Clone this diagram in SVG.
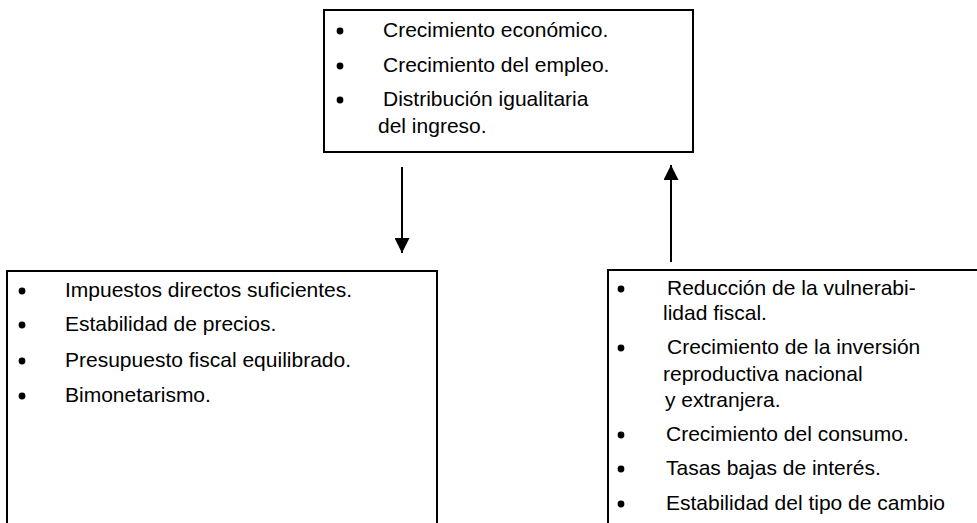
<svg xmlns="http://www.w3.org/2000/svg" width="977" height="523" viewBox="0 0 977 523">
<defs>
<style>
.box{fill:#fff;stroke:#000;stroke-width:2}
.t{font-family:"Liberation Sans",Arial,sans-serif;font-size:21px;fill:#000}
.b{fill:#000}
.ln{stroke:#000;stroke-width:2;fill:none}
</style>
<marker id="ah" viewBox="0 0 10 10" refX="10" refY="5" markerWidth="15" markerHeight="15" markerUnits="userSpaceOnUse" orient="auto">
<path d="M0,0 L10,5 L0,10 Z" fill="#000"/>
</marker>
</defs>
<rect width="977" height="523" fill="#fff"/>
<g id="top">
<rect class="box" x="324" y="10" width="369" height="142"/>
<circle class="b" cx="340" cy="31" r="3.4"/>
<circle class="b" cx="340" cy="66" r="3.4"/>
<circle class="b" cx="340" cy="100" r="3.4"/>
<text class="t" x="383" y="37">Crecimiento económico.</text>
<text class="t" x="383" y="72">Crecimiento del empleo.</text>
<text class="t" x="383" y="106">Distribución igualitaria</text>
<text class="t" x="378" y="133">del ingreso.</text>
</g>
<g id="left">
<path class="box" d="M7,524 V271 H437 V524"/>
<circle class="b" cx="22" cy="291" r="3.4"/>
<circle class="b" cx="22" cy="325" r="3.4"/>
<circle class="b" cx="22" cy="361" r="3.4"/>
<circle class="b" cx="22" cy="396" r="3.4"/>
<text class="t" x="65" y="297">Impuestos directos suficientes.</text>
<text class="t" x="65" y="331">Estabilidad de precios.</text>
<text class="t" x="65" y="367">Presupuesto fiscal equilibrado.</text>
<text class="t" x="65" y="402">Bimonetarismo.</text>
</g>
<g id="right">
<path class="box" d="M608,524 V270 H978"/>
<circle class="b" cx="621" cy="289" r="3.4"/>
<circle class="b" cx="621" cy="348" r="3.4"/>
<circle class="b" cx="621" cy="435" r="3.4"/>
<circle class="b" cx="621" cy="469" r="3.4"/>
<circle class="b" cx="621" cy="504" r="3.4"/>
<text class="t" x="667" y="295">Reducción de la vulnerabi-</text>
<text class="t" x="663" y="320">lidad fiscal.</text>
<text class="t" x="667" y="354">Crecimiento de la inversión</text>
<text class="t" x="663" y="381">reproductiva nacional</text>
<text class="t" x="665" y="407">y extranjera.</text>
<text class="t" x="666" y="441">Crecimiento del consumo.</text>
<text class="t" x="666" y="475">Tasas bajas de interés.</text>
<text class="t" x="666" y="510">Estabilidad del tipo de cambio</text>
</g>
<g id="connectors">
<line class="ln" x1="402" y1="167" x2="402" y2="253" marker-end="url(#ah)"/>
<line class="ln" x1="671" y1="262" x2="671" y2="165" marker-end="url(#ah)"/>
</g>
</svg>
